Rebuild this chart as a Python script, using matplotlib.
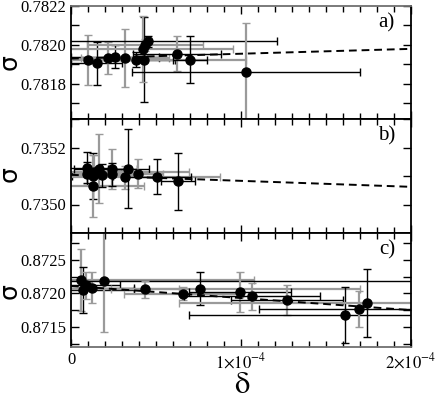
import matplotlib
matplotlib.use('Agg')
import matplotlib.pyplot as plt
from matplotlib.ticker import MultipleLocator
import numpy as np

plt.rcParams['font.family'] = ['Liberation Serif', 'DejaVu Serif']
plt.rcParams['mathtext.fontset'] = 'stix'

GRAY = '#9a9a9a'

# panel a) delta (1e-5 units), sigma, errors, bar colours ('k' black / 'g' gray)
a_delta = [1.02, 1.51, 2.20, 2.59, 3.18, 3.82, 4.30, 4.22, 4.35, 4.51, 6.25, 7.00, 10.3]
a_sigma = [0.781923, 0.781905, 0.781933, 0.781940, 0.781933, 0.781925, 0.781925,
           0.781980, 0.782001, 0.782018, 0.781954, 0.781925, 0.781862]
a_yerr = [0.00013, 0.00011, 0.00008, 0.00006, 0.00015, 0.00004, 0.00022,
          0.00017, 0.00003, 0.00003, 0.00009, 0.00012, 0.00025]
a_xerr = [2.0, 1.5, 3.0, 2.6, 2.6, 2.3, 6.0, 5.3, 3.4, 7.6, 2.6, 1.0, 6.7]
a_ycol = ['g', 'k', 'g', 'k', 'g', 'k', 'k', 'g', 'g', 'k', 'g', 'k', 'g']
a_xcol = ['g', 'k', 'g', 'k', 'g', 'k', 'g', 'g', 'g', 'k', 'k', 'k', 'k']
a_fit = (0.78193, 0.25)

# panel b)
b_delta = [0.92, 0.95, 1.27, 1.27, 1.37, 1.67, 1.84, 2.39, 2.39, 3.18, 3.37, 3.92, 5.04, 6.29]
b_sigma = [0.735129, 0.735108, 0.735100, 0.735065, 0.735115, 0.735126, 0.735102,
           0.735126, 0.735106, 0.735096, 0.735126, 0.735108, 0.735098, 0.735082]
b_yerr = [0.000055, 0.00004, 0.00008, 0.00011, 0.00006, 0.00012, 0.00004,
          0.00007, 0.00004, 0.00004, 0.00014, 0.00005, 0.00006, 0.00010]
b_xerr = [1.5, 2.0, 1.2, 3.0, 5.6, 1.5, 2.0, 1.5, 1.0, 5.6, 1.2, 1.5, 2.0, 1.0]
b_ycol = ['k', 'k', 'k', 'g', 'g', 'g', 'k', 'g', 'k', 'g', 'k', 'g', 'k', 'k']
b_xcol = ['k', 'g', 'k', 'g', 'g', 'k', 'g', 'k', 'g', 'g', 'k', 'g', 'k', 'k']
b_fit = (0.735104, -0.21)

# panel c)
c_delta = [0.57, 0.73, 0.88, 1.21, 1.96, 4.35, 6.60, 7.59, 9.94, 10.63, 12.72, 16.12, 16.94, 17.43]
c_sigma = [0.872203, 0.872050, 0.872122, 0.872087, 0.872178, 0.872061, 0.871995,
           0.872072, 0.872020, 0.871959, 0.871898, 0.871680, 0.871767, 0.871858]
c_yerr = [0.00046, 0.00035, 0.00020, 0.00023, 0.00075, 0.00013, 0.00010,
          0.00025, 0.00030, 0.00020, 0.00022, 0.00042, 0.00027, 0.00051]
c_xerr = [10.2, 3.0, 2.0, 2.5, 20.0, 2.0, 3.5, 9.4, 3.0, 4.0, 3.3, 9.2, 5.9, 11.1]
c_ycol = ['g', 'k', 'g', 'g', 'g', 'g', 'g', 'k', 'g', 'g', 'g', 'k', 'g', 'k']
c_xcol = ['g', 'k', 'k', 'k', 'k', 'g', 'g', 'g', 'k', 'k', 'k', 'k', 'k', 'g']
c_fit = (0.87211, -1.8)

panels = [
    (a_delta, a_sigma, a_yerr, a_xerr, a_ycol, a_xcol, a_fit, 'a)',
     (0.78162, 0.7822), 0.0001, ['0.7818', '0.7820', '0.7822']),
    (b_delta, b_sigma, b_yerr, b_xerr, b_ycol, b_xcol, b_fit, 'b)',
     (0.7349, 0.7353), 0.0001, ['0.7350', '0.7352']),
    (c_delta, c_sigma, c_yerr, c_xerr, c_ycol, c_xcol, c_fit, 'c)',
     (0.8712, 0.8729), 0.00025, ['0.8715', '0.8720', '0.8725']),
]

fig = plt.figure(figsize=(4.36, 3.99), dpi=100)
W, H = 436, 399
left, right = 71, 411
edges = [(6, 119), (119, 233), (233, 347)]
sig_y = [63, 175, 292]

for i, (dl, sg, ye, xe, yc, xc, fit, lab, ylim, minor, ylabels) in enumerate(panels):
    top, bot = edges[i]
    ax = fig.add_axes([left / W, 1 - bot / H, (right - left) / W, (bot - top) / H])
    x = np.array(dl) * 1e-5
    y = np.array(sg)
    for j in range(len(x)):
        ax.errorbar(x[j], y[j], xerr=xe[j] * 1e-5, fmt='none',
                    ecolor=GRAY if xc[j] == 'g' else 'k',
                    elinewidth=1.6 if xc[j] == 'g' else 1.0, capsize=3, capthick=1.0)
        ax.errorbar(x[j], y[j], yerr=ye[j], fmt='none',
                    ecolor=GRAY if yc[j] == 'g' else 'k',
                    elinewidth=1.6 if yc[j] == 'g' else 1.0, capsize=3, capthick=1.0)
    xf = np.array([0, 2e-4])
    ax.plot(xf, fit[0] + fit[1] * xf, color='k', lw=1.4, ls=(0, (4, 2.5)), zorder=4)
    ax.plot(x, y, 'o', color='k', ms=6.5, zorder=5)

    ax.set_xlim(0, 2e-4)
    ax.set_ylim(*ylim)
    ax.xaxis.set_major_locator(MultipleLocator(1e-4))
    ax.xaxis.set_minor_locator(MultipleLocator(1e-5))
    ax.set_yticks([float(t) for t in ylabels])
    ax.set_yticklabels(ylabels)
    ax.yaxis.set_minor_locator(MultipleLocator(minor))
    ax.tick_params(which='both', direction='in', top=True, right=True, labelsize=12, width=1.0)
    ax.tick_params(which='major', length=6)
    ax.tick_params(which='minor', length=4)
    ax.tick_params(axis='y', which='minor', length=6)
    for s in ax.spines.values():
        s.set_linewidth(1.3)
    if i == 2:
        ax.set_xticks([0, 1e-4, 2e-4])
        ax.set_xticklabels(['0', r'$1{\times}10^{-4}$', r'$2{\times}10^{-4}$'])
        ax.spines['bottom'].set_color('#707070')
    else:
        ax.tick_params(axis='x', labelbottom=False)
    if i == 0:
        ax.spines['top'].set_color('#707070')
    ax.text(0.929, 0.85, lab, transform=ax.transAxes, ha='center', va='center', fontsize=15)
    fig.text(12 / W, 1 - sig_y[i] / H, r'$\mathrm{\sigma}$', math_fontfamily='dejavusans',
             fontsize=18, rotation=90, ha='center', va='center')

fig.text(242 / W, 1 - 386 / H, '\u03b4', fontsize=22, ha='center', va='center',
         family='STIXGeneral')

fig.savefig('out.png', dpi=100)
